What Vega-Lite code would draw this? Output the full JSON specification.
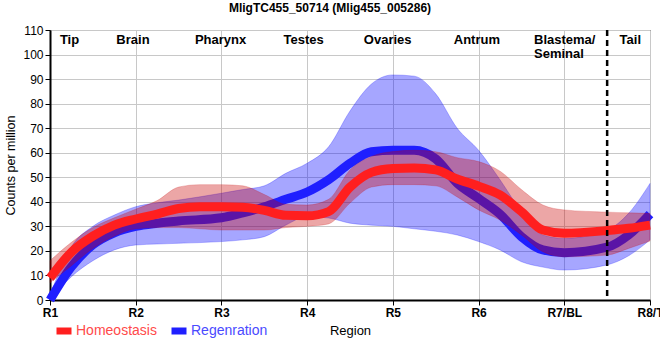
{
  "$schema": "https://vega.github.io/schema/vega-lite/v6.json",
  "width": 600,
  "height": 270,
  "autosize": {"type": "none"},
  "padding": {"left": 50, "top": 30, "right": 10, "bottom": 60},
  "title": {"text": "MligTC455_50714 (Mlig455_005286)", "fontSize": 12, "fontWeight": "bold", "font": "Liberation Sans", "color": "black", "anchor": "middle", "frame": "group", "dx": -20, "offset": 9},
  "config": {
    "font": "Liberation Sans",
    "view": {"stroke": "black", "strokeWidth": 1},
    "axis": {"gridColor": "#c8c8c8", "gridWidth": 1, "domainColor": "black", "domainWidth": 2, "tickColor": "black", "tickSize": 5, "labelColor": "black", "titleColor": "black", "labelFont": "Liberation Sans", "titleFont": "Liberation Sans"},
    "axisY": {"titleFontSize": 12.5, "titleFontWeight": "normal", "titlePadding": 5},
    "axisX": {"titleFontSize": 13, "titleFontWeight": "normal"}
  },
  "datasets": {
    "curves": [
      {"series": "Regenration", "x": 1, "m": 0, "lo": 0, "hi": 2},
      {"series": "Regenration", "x": 1.25, "m": 13.5, "lo": 9.5, "hi": 21.7},
      {"series": "Regenration", "x": 1.5, "m": 22.5, "lo": 16, "hi": 30},
      {"series": "Regenration", "x": 1.75, "m": 27.4, "lo": 20.4, "hi": 34.6},
      {"series": "Regenration", "x": 2, "m": 30, "lo": 22.4, "hi": 38},
      {"series": "Regenration", "x": 2.25, "m": 31.3, "lo": 22.8, "hi": 39.6},
      {"series": "Regenration", "x": 2.5, "m": 32.2, "lo": 23.1, "hi": 40.7},
      {"series": "Regenration", "x": 3, "m": 33.5, "lo": 23.8, "hi": 43.5},
      {"series": "Regenration", "x": 3.25, "m": 35.5, "lo": 24.5, "hi": 45},
      {"series": "Regenration", "x": 3.5, "m": 38, "lo": 25.8, "hi": 46.5},
      {"series": "Regenration", "x": 3.75, "m": 41, "lo": 30.5, "hi": 51.6},
      {"series": "Regenration", "x": 4, "m": 44, "lo": 34, "hi": 55.7},
      {"series": "Regenration", "x": 4.25, "m": 49, "lo": 33.4, "hi": 62.4},
      {"series": "Regenration", "x": 4.5, "m": 55.7, "lo": 31.3, "hi": 77},
      {"series": "Regenration", "x": 4.75, "m": 60.4, "lo": 30.5, "hi": 88},
      {"series": "Regenration", "x": 5, "m": 61, "lo": 30, "hi": 91.7},
      {"series": "Regenration", "x": 5.25, "m": 61, "lo": 29, "hi": 91.2},
      {"series": "Regenration", "x": 5.5, "m": 57.5, "lo": 28, "hi": 84},
      {"series": "Regenration", "x": 5.75, "m": 47.6, "lo": 26.5, "hi": 70},
      {"series": "Regenration", "x": 6, "m": 41.4, "lo": 23.8, "hi": 61},
      {"series": "Regenration", "x": 6.25, "m": 35, "lo": 20.4, "hi": 49},
      {"series": "Regenration", "x": 6.5, "m": 25.8, "lo": 15.6, "hi": 36},
      {"series": "Regenration", "x": 6.75, "m": 20.4, "lo": 13.4, "hi": 26.5},
      {"series": "Regenration", "x": 7, "m": 19.3, "lo": 12.2, "hi": 25.1},
      {"series": "Regenration", "x": 7.5, "m": 21.5, "lo": 14.3, "hi": 28.5},
      {"series": "Regenration", "x": 7.75, "m": 26.5, "lo": 18, "hi": 35.3},
      {"series": "Regenration", "x": 8, "m": 35, "lo": 24.5, "hi": 47.5},
      {"series": "Homeostasis", "x": 1, "m": 9, "lo": 7, "hi": 16},
      {"series": "Homeostasis", "x": 1.25, "m": 19.5, "lo": 14, "hi": 23.5},
      {"series": "Homeostasis", "x": 1.5, "m": 26, "lo": 21, "hi": 29.5},
      {"series": "Homeostasis", "x": 1.75, "m": 30.5, "lo": 26, "hi": 33.5},
      {"series": "Homeostasis", "x": 2, "m": 33, "lo": 29, "hi": 37},
      {"series": "Homeostasis", "x": 2.25, "m": 35, "lo": 29.5, "hi": 40.5},
      {"series": "Homeostasis", "x": 2.5, "m": 37.3, "lo": 29.5, "hi": 46},
      {"series": "Homeostasis", "x": 2.75, "m": 38, "lo": 29, "hi": 47},
      {"series": "Homeostasis", "x": 3, "m": 38, "lo": 28.5, "hi": 47},
      {"series": "Homeostasis", "x": 3.25, "m": 37.8, "lo": 28.5, "hi": 46.5},
      {"series": "Homeostasis", "x": 3.5, "m": 36.5, "lo": 28.5, "hi": 43},
      {"series": "Homeostasis", "x": 3.75, "m": 34.5, "lo": 29.5, "hi": 39},
      {"series": "Homeostasis", "x": 4, "m": 34.3, "lo": 30, "hi": 38.7},
      {"series": "Homeostasis", "x": 4.25, "m": 36, "lo": 31, "hi": 41},
      {"series": "Homeostasis", "x": 4.5, "m": 46, "lo": 39.5, "hi": 53},
      {"series": "Homeostasis", "x": 4.75, "m": 52, "lo": 46, "hi": 58.5},
      {"series": "Homeostasis", "x": 5, "m": 53.6, "lo": 47, "hi": 60.5},
      {"series": "Homeostasis", "x": 5.25, "m": 53.8, "lo": 47, "hi": 61},
      {"series": "Homeostasis", "x": 5.5, "m": 53, "lo": 46.5, "hi": 60.4},
      {"series": "Homeostasis", "x": 5.75, "m": 49.3, "lo": 42, "hi": 58},
      {"series": "Homeostasis", "x": 6, "m": 46.4, "lo": 36.7, "hi": 56.4},
      {"series": "Homeostasis", "x": 6.25, "m": 42.8, "lo": 32.6, "hi": 52.5},
      {"series": "Homeostasis", "x": 6.5, "m": 36, "lo": 26.5, "hi": 45},
      {"series": "Homeostasis", "x": 6.75, "m": 28.5, "lo": 19.7, "hi": 38.7},
      {"series": "Homeostasis", "x": 7, "m": 27.2, "lo": 17.6, "hi": 36.7},
      {"series": "Homeostasis", "x": 7.5, "m": 28.3, "lo": 18.3, "hi": 35.8},
      {"series": "Homeostasis", "x": 7.75, "m": 29.2, "lo": 21, "hi": 35.5},
      {"series": "Homeostasis", "x": 8, "m": 30.5, "lo": 24, "hi": 35.3}
    ],
    "regions": [
      {"x": 1.228, "y": 104.3, "label": "Tip"},
      {"x": 1.968, "y": 104.3, "label": "Brain"},
      {"x": 2.99, "y": 104.3, "label": "Pharynx"},
      {"x": 3.96, "y": 104.3, "label": "Testes"},
      {"x": 4.94, "y": 104.3, "label": "Ovaries"},
      {"x": 5.98, "y": 104.3, "label": "Antrum"},
      {"x": 7.77, "y": 104.3, "label": "Tail"}
    ],
    "regionsLeft": [
      {"x": 6.647, "y": 104.3, "label": "Blastema/\nSeminal"}
    ],
    "divider": [{"x": 7.5}]
  },
  "layer": [
    {
      "data": {"name": "curves"},
      "transform": [{"filter": "datum.series === 'Regenration'"}],
      "mark": {"type": "area", "interpolate": "monotone", "fill": "#0000ff", "fillOpacity": 0.35, "stroke": "#0000ff", "strokeOpacity": 0.3, "strokeWidth": 0.8},
      "encoding": {
        "x": {"field": "x", "type": "quantitative", "title": "Region", "scale": {"domain": [1, 8], "nice": false, "zero": false},
          "axis": {"values": [1, 2, 3, 4, 5, 6, 7, 8], "labelExpr": "['R1','R2','R3','R4','R5','R6','R7/BL','R8/T'][datum.value-1]", "labelFontSize": 12, "labelFontWeight": "bold", "labelFlush": false, "labelOverlap": false, "labelBound": false, "labelPadding": 2, "titlePadding": 6}},
        "y": {"field": "lo", "type": "quantitative", "title": "Counts per million", "scale": {"domain": [0, 110], "nice": false},
          "axis": {"values": [0, 10, 20, 30, 40, 50, 60, 70, 80, 90, 100, 110], "labelOverlap": false, "labelFontSize": 12, "labelPadding": 2}},
        "y2": {"field": "hi"}
      }
    },
    {
      "data": {"name": "curves"},
      "transform": [{"filter": "datum.series === 'Regenration'"}],
      "mark": {"type": "line", "interpolate": "monotone", "strokeWidth": 9},
      "encoding": {
        "x": {"field": "x", "type": "quantitative", "title": "Region"},
        "y": {"field": "m", "type": "quantitative", "title": "Counts per million",
          "axis": {"values": [0, 10, 20, 30, 40, 50, 60, 70, 80, 90, 100, 110], "labelOverlap": false, "labelFontSize": 12, "labelPadding": 2}},
        "color": {"field": "series", "type": "nominal",
          "scale": {"domain": ["Homeostasis", "Regenration"], "range": ["#ff1f1f", "#1f1fff"]},
          "legend": {"orient": "none", "legendX": 3, "legendY": 290, "direction": "horizontal", "title": null, "symbolType": "M-1,0L1,0", "symbolSize": 225, "symbolStrokeWidth": 7, "symbolOpacity": 1, "labelFontSize": 14, "labelFont": "Liberation Sans", "labelOffset": 1, "columnPadding": 0, "padding": 0,
            "encode": {"labels": {"update": {"fill": {"signal": "datum.value === 'Homeostasis' ? '#ff4a4a' : '#4a4aff'"}}}}}
        }
      }
    },
    {
      "data": {"name": "curves"},
      "transform": [{"filter": "datum.series === 'Homeostasis'"}],
      "mark": {"type": "area", "interpolate": "monotone", "fill": "#c80000", "fillOpacity": 0.35, "stroke": "#c80000", "strokeOpacity": 0.25, "strokeWidth": 0.8},
      "encoding": {
        "x": {"field": "x", "type": "quantitative", "title": "Region"},
        "y": {"field": "lo", "type": "quantitative", "title": "Counts per million",
          "axis": {"values": [0, 10, 20, 30, 40, 50, 60, 70, 80, 90, 100, 110], "labelOverlap": false, "labelFontSize": 12, "labelPadding": 2}},
        "y2": {"field": "hi"}
      }
    },
    {
      "data": {"name": "curves"},
      "transform": [{"filter": "datum.series === 'Homeostasis'"}],
      "mark": {"type": "line", "interpolate": "monotone", "strokeWidth": 9},
      "encoding": {
        "x": {"field": "x", "type": "quantitative", "title": "Region"},
        "y": {"field": "m", "type": "quantitative", "title": "Counts per million",
          "axis": {"values": [0, 10, 20, 30, 40, 50, 60, 70, 80, 90, 100, 110], "labelOverlap": false, "labelFontSize": 12, "labelPadding": 2}},
        "color": {"field": "series", "type": "nominal"}
      }
    },
    {
      "data": {"name": "divider"},
      "mark": {"type": "rule", "color": "black", "strokeWidth": 2.5, "strokeDash": [6, 4]},
      "encoding": {"x": {"field": "x", "type": "quantitative", "title": "Region"}}
    },
    {
      "data": {"name": "regions"},
      "mark": {"type": "text", "fontSize": 13, "fontWeight": "bold", "font": "Liberation Sans", "color": "black", "align": "center", "baseline": "alphabetic"},
      "encoding": {
        "x": {"field": "x", "type": "quantitative", "title": "Region"},
        "y": {"field": "y", "type": "quantitative", "title": "Counts per million",
          "axis": {"values": [0, 10, 20, 30, 40, 50, 60, 70, 80, 90, 100, 110], "labelOverlap": false, "labelFontSize": 12, "labelPadding": 2}},
        "text": {"field": "label"}
      }
    },
    {
      "data": {"name": "regionsLeft"},
      "mark": {"type": "text", "fontSize": 13, "fontWeight": "bold", "font": "Liberation Sans", "color": "black", "align": "left", "baseline": "alphabetic", "lineBreak": "\n", "lineHeight": 14},
      "encoding": {
        "x": {"field": "x", "type": "quantitative", "title": "Region"},
        "y": {"field": "y", "type": "quantitative", "title": "Counts per million",
          "axis": {"values": [0, 10, 20, 30, 40, 50, 60, 70, 80, 90, 100, 110], "labelOverlap": false, "labelFontSize": 12, "labelPadding": 2}},
        "text": {"field": "label"}
      }
    }
  ]
}
